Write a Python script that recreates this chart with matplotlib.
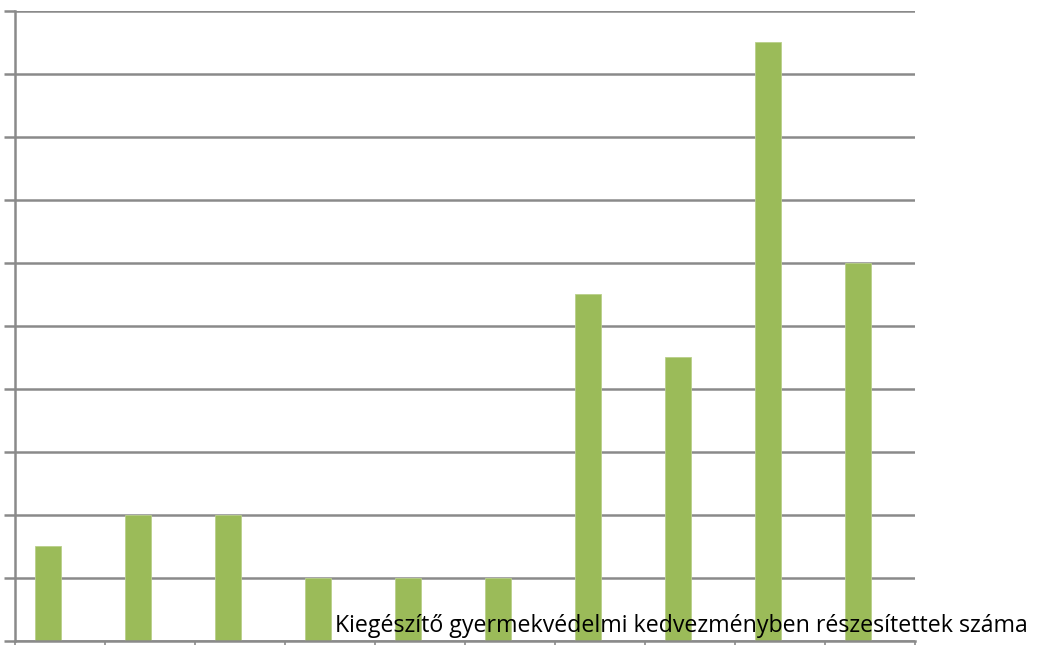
import matplotlib
matplotlib.use("Agg")
import matplotlib.pyplot as plt
import numpy as np

categories = ["", "", "", "", "", "", "", "", "", ""]
values = [3, 4, 4, 2, 2, 2, 11, 9, 19, 12]
series_label = "Kiegészítő gyermekvédelmi kedvezményben részesítettek száma"
y_ticks = list(range(0, 21, 2))

W, H = 1039, 645
fig = plt.figure(figsize=(W / 100, H / 100), dpi=100)
ax = fig.add_axes([15 / W, 1 - 640.5 / H, 900 / W, (640.5 - 10.5) / H])

grid_c = "#8a8a8a"
bar_c = "#9bbb59"
x = np.arange(len(values))
bw = 26 / 90
ax.bar(x + 19.5 / 90, values, width=bw, align="edge", color=bar_c,
       edgecolor="#b9d08a", linewidth=0.6, zorder=3)

ax.set_xlim(0, len(values))
ax.set_ylim(0, 20)
ax.set_yticks(y_ticks)
ax.set_yticklabels([])
ax.set_xticks(np.arange(len(values) + 1))
ax.set_xticklabels(categories + [""])
ax.grid(axis="y", color=grid_c, linewidth=1.8, zorder=1)
ax.tick_params(axis="y", length=8, width=1.8, color=grid_c, direction="out")
ax.tick_params(axis="x", length=6, width=1.2, color=grid_c, direction="out")
for s in ["top", "right"]:
    ax.spines[s].set_visible(False)
for s in ["left", "bottom"]:
    ax.spines[s].set_color(grid_c)
    ax.spines[s].set_linewidth(1.8)
    ax.spines[s].set_zorder(4)

fig.text(335 / W, 1 - 631.5 / H, series_label, fontsize=16.7, family="Open Sans",
         ha="left", va="baseline", color="black", zorder=10)

fig.savefig("out.png", dpi=100, facecolor="white")
